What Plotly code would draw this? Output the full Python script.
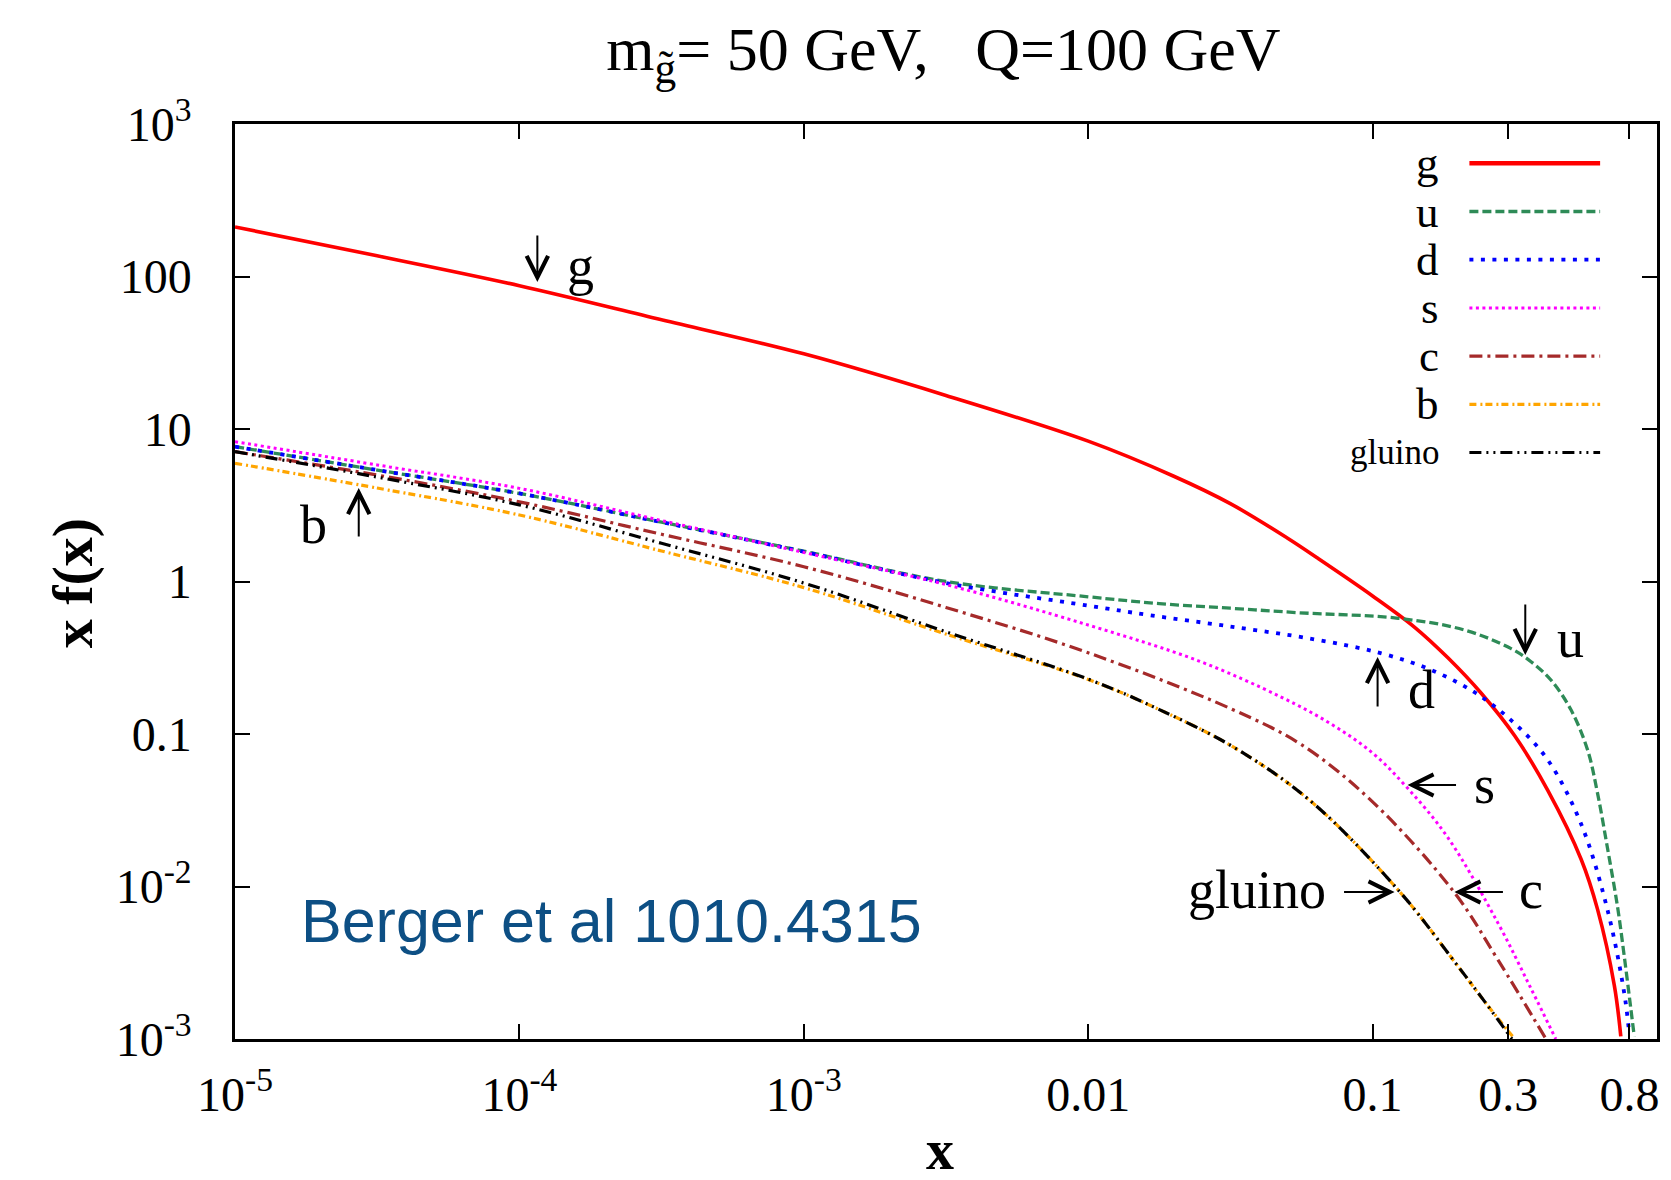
import plotly.graph_objects as go

# ---------------- data ----------------
g_x = [1e-5, 3.16e-5, 1e-4, 3.16e-4, 1e-3, 3.16e-3, 0.01, 0.02, 0.0316, 0.0501, 0.0644,
       0.1, 0.1406, 0.184, 0.241, 0.3155, 0.413, 0.541, 0.618, 0.708, 0.746]
g_y = [211.3, 136.8, 87.1, 52.1, 31.1, 16.6, 8.32, 4.90, 3.24, 1.928, 1.413,
       0.804, 0.501, 0.316, 0.185, 0.0977, 0.0427, 0.0151, 0.00708, 0.00224, 0.00104]

u_x = [1e-5, 3.16e-5, 1e-4, 3.16e-4, 1e-3, 3.16e-3, 0.01, 0.0178, 0.0316, 0.055, 0.123,
       0.21, 0.307, 0.3606, 0.4236, 0.4989, 0.5702, 0.618, 0.6699, 0.7261, 0.7674, 0.8091, 0.8318]
u_y = [7.66, 5.38, 3.78, 2.45, 1.58, 1.0, 0.794, 0.716, 0.668, 0.624, 0.574,
       0.481, 0.363, 0.298, 0.226, 0.1435, 0.0785, 0.0408, 0.0178, 0.00741, 0.00347, 0.00158, 0.00104]

d_x = [1e-5, 3.16e-5, 1e-4, 3.16e-4, 1e-3, 3.16e-3, 0.01, 0.0163, 0.0316, 0.0627, 0.1074,
       0.1607, 0.2312, 0.3155, 0.413, 0.541, 0.67, 0.767, 0.798]
d_y = [7.66, 5.38, 3.78, 2.45, 1.567, 0.977, 0.695, 0.603, 0.507, 0.417, 0.338,
       0.263, 0.185, 0.1175, 0.0676, 0.0257, 0.00701, 0.0020, 0.0011]

s_x = [1e-5, 3.16e-5, 1e-4, 3.16e-4, 1e-3, 3.16e-3, 0.01, 0.0244, 0.0479, 0.0708, 0.1,
       0.1334, 0.184, 0.276, 0.3606, 0.4406]
s_y = [8.26, 5.81, 4.08, 2.51, 1.55, 0.955, 0.518, 0.302, 0.174, 0.1175, 0.075,
       0.0437, 0.0209, 0.00575, 0.00214, 0.00100]

c_x = [1e-5, 3.16e-5, 1e-4, 3.16e-4, 1e-3, 3.16e-3, 0.01, 0.0316, 0.0562, 0.1, 0.194,
       0.276, 0.407]
c_y = [7.10, 4.99, 3.33, 2.04, 1.25, 0.676, 0.341, 0.147, 0.0851, 0.0359, 0.00912,
       0.0033, 0.00100]

b_x = [1e-5, 3.16e-5, 1e-4, 3.16e-4, 1e-3, 3.16e-3, 0.01, 0.0178, 0.0327, 0.061, 0.1253,
       0.1954, 0.2512, 0.316]
b_y = [5.96, 4.10, 2.73, 1.585, 0.912, 0.452, 0.228, 0.1445, 0.0813, 0.0359, 0.00912,
       0.00316, 0.0017, 0.00100]

gl_x = [1e-5, 3.16e-5, 1e-4, 3.16e-4, 1e-3, 3.16e-3, 0.01, 0.0178, 0.0327, 0.061, 0.1253,
        0.1954, 0.2512, 0.309]
gl_y = [7.10, 4.84, 3.18, 1.78, 0.977, 0.468, 0.229, 0.1445, 0.0813, 0.0359, 0.00912,
        0.00316, 0.0017, 0.00100]

x_tickvals = [1e-5, 1e-4, 1e-3, 0.01, 0.1, 0.3, 0.8]
x_ticktext = ["10<sup>-5</sup>", "10<sup>-4</sup>", "10<sup>-3</sup>", "0.01", "0.1", "0.3", "0.8"]
y_tickvals = [1e-3, 1e-2, 0.1, 1, 10, 100, 1000]
y_ticktext = ["10<sup>-3</sup>", "10<sup>-2</sup>", "0.1", "1", "10", "100", "10<sup>3</sup>"]

series_names = ["g", "u", "d", "s", "c", "b", "gluino"]
series_x = [g_x, u_x, d_x, s_x, c_x, b_x, gl_x]
series_y = [g_y, u_y, d_y, s_y, c_y, b_y, gl_y]

# ---------------- styles ----------------
colors = ["#ff0000", "#2e8b57", "#0000ff", "#ff00ff", "#a52a2a", "#ffa500", "#000000"]
dashes = ["solid", "9px,4px", "4px,7.5px", "3px,3.5px", "13px,5px,3px,5px",
          "7px,4px,2px,3px", "12px,5px,2px,5px,2px,5px"]
widths = [3.6, 3.3, 3.8, 3, 3.2, 3.2, 3.2]

SERIF = "Liberation Serif"
SANS = "Liberation Sans"

# plot-area geometry in pixels
L, R, T, B = 235, 1660, 124, 1039
W, H = R - L, B - T


def px(xp):
    return (xp - L) / W


def py(yp):
    return (B - yp) / H


fig = go.Figure()
for name, xs, ys, col, dsh, wd in zip(series_names, series_x, series_y, colors, dashes, widths):
    fig.add_trace(go.Scatter(
        x=xs, y=ys, mode="lines", name=name, showlegend=False,
        line=dict(color=col, dash=dsh, width=wd, shape="spline", smoothing=1.0),
    ))

axis_common = dict(
    type="log", showgrid=False, zeroline=False, showline=True, mirror="ticks",
    linecolor="black", linewidth=2.5, ticks="inside", ticklen=15, tickwidth=2,
    tickcolor="black", tickfont=dict(family=SERIF, size=48, color="black"),
)
fig.update_xaxes(range=[-5, 0], tickmode="array", tickvals=x_tickvals,
                 ticktext=x_ticktext, ticklabelstandoff=12, **axis_common)
fig.update_yaxes(range=[-3, 3], tickmode="array", tickvals=y_tickvals,
                 ticktext=y_ticktext, ticklabelstandoff=31, **axis_common)

annotations = []


def add_text(txt, xp_, yp_, size, family=SERIF, color="black", xanchor="center", **kw):
    annotations.append(dict(text=txt, x=px(xp_), y=py(yp_), xref="paper", yref="paper",
                            showarrow=False, xanchor=xanchor, yanchor="middle",
                            font=dict(family=family, size=size, color=color), **kw))


def add_arrow(tipx, tipy, tailx, taily):
    annotations.append(dict(text="", x=px(tipx), y=py(tipy), xref="paper", yref="paper",
                            ax=tailx - tipx, ay=taily - tipy, axref="pixel", ayref="pixel",
                            showarrow=True, arrowhead=5, arrowsize=2.1, arrowwidth=2,
                            arrowcolor="black", standoff=0, startstandoff=0))


# axis titles
add_text("<b>x f(x)</b>", 72, 583, 58, textangle=-90)
add_text("<b>x</b>", 941, 1150, 56, height=40)
# source note
add_text("Berger et al 1010.4315", 299, 921, 61, family=SANS, color="#0d4f84", xanchor="left")

# curve labels and arrows
label_letters = [("g", 581, 266), ("u", 1573, 639), ("d", 1424, 690), ("s", 1487, 785),
                 ("gluino", 1259, 890), ("c", 1534, 890), ("b", 314, 525)]
for txt, xp_, yp_ in label_letters:
    add_text(txt, xp_, yp_, 54)
arrow_pos = [((538, 282), (538, 234)), ((1528, 655), (1528, 603)), ((1380, 657), (1380, 708)),
             ((1410, 785), (1460, 785)), ((1397, 892), (1345, 892)), ((1457, 892), (1507, 892)),
             ((359, 488), (359, 538))]
for (tx, ty), (sx, sy) in arrow_pos:
    add_arrow(tx, ty, sx, sy)

# manual legend (labels to the left of the samples)
shapes = []
leg_top, leg_step = 163.3, 48.2
for i, (name, col, dsh, wd) in enumerate(zip(series_names, colors, dashes, widths)):
    yrow = leg_top + i * leg_step
    shapes.append(dict(type="line", xref="paper", yref="paper", x0=px(1472), x1=px(1603),
                       y0=py(yrow), y1=py(yrow),
                       line=dict(color=col, dash=dsh, width=wd + 1 if i == 0 else wd)))
    add_text(name, 1444, yrow, 35 if name == "gluino" else 45, xanchor="right")

fig.update_layout(
    width=1671, height=1180,
    margin=dict(l=L, r=1671 - R, t=T, b=1180 - B, pad=0),
    paper_bgcolor="white", plot_bgcolor="white",
    title=dict(text="m<sub>g\u0303</sub>= 50 GeV,\u00a0\u00a0\u00a0Q=100 GeV",
               x=px(945), xref="paper", xanchor="center", y=1 - 48 / 1180, yanchor="middle",
               font=dict(family=SERIF, size=62, color="black")),
    annotations=annotations, shapes=shapes, showlegend=False,
)

fig.write_html("out.html")
